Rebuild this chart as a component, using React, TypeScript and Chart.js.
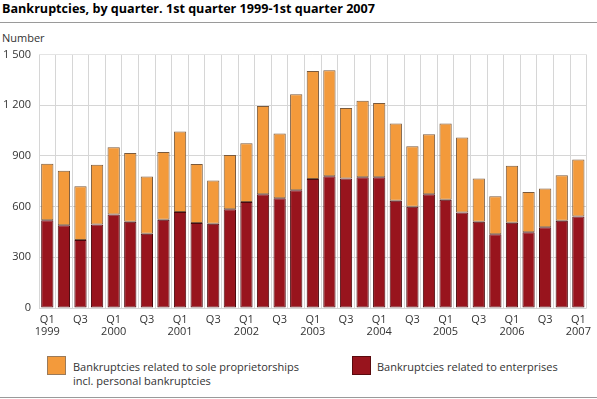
import React, { useEffect, useRef } from "react";
import { Chart, registerables } from "chart.js";

Chart.register(...registerables);

const categories = [
  "1999 Q1", "1999 Q2", "1999 Q3", "1999 Q4",
  "2000 Q1", "2000 Q2", "2000 Q3", "2000 Q4",
  "2001 Q1", "2001 Q2", "2001 Q3", "2001 Q4",
  "2002 Q1", "2002 Q2", "2002 Q3", "2002 Q4",
  "2003 Q1", "2003 Q2", "2003 Q3", "2003 Q4",
  "2004 Q1", "2004 Q2", "2004 Q3", "2004 Q4",
  "2005 Q1", "2005 Q2", "2005 Q3", "2005 Q4",
  "2006 Q1", "2006 Q2", "2006 Q3", "2006 Q4",
  "2007 Q1",
];

const enterprises = [
  519, 490, 402, 495, 553, 511, 439, 523, 569, 503, 499, 584, 627, 673, 650, 697,
  763, 780, 766, 774, 774, 635, 600, 673, 641, 565, 511, 437, 505, 449, 478, 517,
  542,
];

const soleProprietorships = [
  335, 323, 318, 353, 399, 406, 339, 400, 476, 350, 256, 322, 348, 523, 383, 569,
  640, 627, 418, 453, 439, 457, 358, 355, 451, 445, 255, 225, 337, 238, 230, 269,
  337,
];

const yTicks = [0, 300, 600, 900, 1200, 1500];

const legendSole = ["Bankruptcies related to sole proprietorships", "incl. personal bankruptcies"];
const legendEnterprises = ["Bankruptcies related to enterprises"];

const ORANGE = "#F39A3B";
const RED = "#98141D";
const FONT = "'Open Sans', 'Noto Sans', sans-serif";

function formatNumber(v: number): string {
  const s = String(v);
  return s.length > 3 ? s.slice(0, s.length - 3) + " " + s.slice(s.length - 3) : s;
}

function tickLabel(cat: string): string | string[] {
  const [year, q] = cat.split(" ");
  if (q === "Q1") return ["Q1", year];
  if (q === "Q3") return "Q3";
  return "";
}

export default function App() {
  const ref = useRef<HTMLCanvasElement | null>(null);

  useEffect(() => {
    if (!ref.current) return;
    const chart = new Chart(ref.current, {
      type: "bar",
      data: {
        labels: categories,
        datasets: [
          {
            label: legendEnterprises.join(" "),
            data: enterprises,
            backgroundColor: RED,
            borderColor: "#4a080c",
            borderWidth: 1,
            borderSkipped: false,
            barPercentage: 0.74,
            categoryPercentage: 1,
          },
          {
            label: legendSole.join(" "),
            data: soleProprietorships,
            backgroundColor: ORANGE,
            borderColor: "#7a5a3c",
            borderWidth: 1,
            borderSkipped: false,
            barPercentage: 0.74,
            categoryPercentage: 1,
          },
        ],
      },
      options: {
        animation: false,
        responsive: false,
        maintainAspectRatio: false,
        layout: { padding: { top: 10, right: 5, left: 0, bottom: 0 } },
        plugins: { legend: { display: false }, tooltip: { enabled: false }, title: { display: false } },
        scales: {
          x: {
            stacked: true,
            offset: true,
            border: { display: false },
            grid: { display: true, color: "#d6d6d6", lineWidth: 1, drawTicks: false, offset: true },
            ticks: {
              autoSkip: false,
              maxRotation: 0,
              minRotation: 0,
              padding: 6,
              color: "#333",
              font: { family: FONT, size: 11, lineHeight: 1.1 },
              callback: (_v: any, i: number) => tickLabel(categories[i]),
            },
            afterFit: (scale: any) => {
              scale.height = 32;
            },
          },
          y: {
            stacked: true,
            min: yTicks[0],
            max: yTicks[yTicks.length - 1],
            border: { display: false },
            afterBuildTicks: (scale: any) => {
              scale.ticks = yTicks.map((v) => ({ value: v }));
            },
            grid: {
              color: (ctx: any) => (ctx.tick && ctx.tick.value === 1500 ? "#e4e4e4" : "#d6d6d6"),
              lineWidth: 1,
              drawTicks: false,
            },
            ticks: {
              padding: 8,
              color: "#333",
              font: { family: FONT, size: 11 },
              callback: (v: any) => formatNumber(Number(v)),
            },
            afterFit: (scale: any) => {
              scale.width = 39;
            },
          },
        },
      },
    });
    return () => chart.destroy();
  }, []);

  const textStyle: React.CSSProperties = {
    position: "absolute",
    fontFamily: FONT,
    fontSize: 11,
    color: "#333",
    lineHeight: "14px",
    whiteSpace: "nowrap",
  };

  return (
    <div style={{ position: "absolute", left: 0, top: 0, width: 597, height: 399, background: "#fff", overflow: "hidden" }}>
      <div style={{ ...textStyle, left: 2, top: 0, fontSize: 12.6, fontWeight: 700, color: "#000", lineHeight: "17px" }}>
        Bankruptcies, by quarter. 1st quarter 1999-1st quarter 2007
      </div>
      <div style={{ position: "absolute", left: 0, top: 22, width: 597, height: 1, background: "#9a9a9a" }} />
      <div style={{ ...textStyle, left: 2, top: 31 }}>Number</div>
      <canvas ref={ref} width={597} height={300} style={{ position: "absolute", left: 0, top: 40, width: 597, height: 300 }} />
      <div style={{ position: "absolute", left: 47, top: 356, width: 19, height: 19, background: ORANGE, boxSizing: "border-box", border: "1px solid #9a7a5a" }} />
      <div style={{ ...textStyle, left: 73, top: 360 }}>
        {legendSole.map((l, i) => (
          <div key={i}>{l}</div>
        ))}
      </div>
      <div style={{ position: "absolute", left: 352, top: 356, width: 19, height: 19, background: RED, boxSizing: "border-box", border: "1px solid #5a0a0e" }} />
      <div style={{ ...textStyle, left: 377, top: 360 }}>
        {legendEnterprises.map((l, i) => (
          <div key={i}>{l}</div>
        ))}
      </div>
      <div style={{ position: "absolute", left: 0, top: 397, width: 597, height: 1, background: "#9a9a9a" }} />
    </div>
  );
}
